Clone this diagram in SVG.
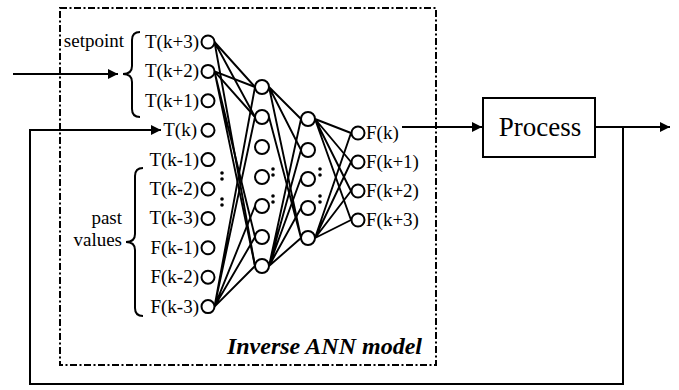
<svg xmlns="http://www.w3.org/2000/svg" width="679" height="390" viewBox="0 0 679 390">
<style>
.t{font-family:"Liberation Serif","Times New Roman",serif;font-size:19px;fill:#000}
.n{fill:#fff;stroke:#000;stroke-width:2}
.e{stroke:#000;stroke-width:1.9;fill:none}
.w{stroke:#000;stroke-width:2;fill:none}
.d{fill:#000}
</style>
<defs>
<marker id="ah" viewBox="0 0 10 10" refX="10" refY="5" markerWidth="5" markerHeight="5" orient="auto" markerUnits="strokeWidth">
<path d="M0,0 L10,5 L0,10 z" fill="#000"/>
</marker>
</defs>
<rect x="60" y="8" width="376" height="357" fill="none" stroke="#000" stroke-width="2" stroke-dasharray="7 2.5 2 2.5"/>
<g id="connectors">
<g class="e">
<path d="M214.5,42 L255,87 M214.5,42 L255,117 M214.5,42 L255,266"/>
<path d="M214.5,71.4 L255,87 M214.5,71.4 L255,117 M214.5,71.4 L255,237 M214.5,71.4 L255,266"/>
<path d="M214.5,306.6 L255,87 M214.5,306.6 L255,117 M214.5,306.6 L255,206 M214.5,306.6 L255,237 M214.5,306.6 L255,266"/>
<path d="M269,87 L301,119 M269,87 L301,150 M269,87 L301,238 M269,117 L301,238"/>
<path d="M269,266 L301,119 M269,266 L301,150 M269,266 L301,178 M269,266 L301,208 M269,266 L301,238"/>
<path d="M315,119 L351,133 M315,119 L351,162 M315,119 L351,191 M315,119 L351,220"/>
<path d="M315,238 L351,133 M315,238 L351,162 M315,238 L351,191 M315,238 L351,220"/>
</g>
<path class="w" d="M13,74 H118" marker-end="url(#ah)"/>
<path class="w" d="M402,127 H482" marker-end="url(#ah)"/>
<path class="w" d="M595,127 H670" marker-end="url(#ah)"/>
<path class="w" stroke-width="2.4" d="M623,127 V384 H30 V130 H161" marker-end="url(#ah)"/>
</g>
<g id="braces" class="w">
<path d="M140,32 Q132,32 132,40 L132,66 Q132,74 123,74 Q132,74 132,82 L132,109 Q132,117 140,117"/>
<path d="M143,168 Q135,168 135,176 L135,234 Q135,242 126,242 Q135,242 135,250 L135,308 Q135,316 143,316"/>
</g>
<text class="t" x="124" y="47" text-anchor="end">setpoint</text>
<text class="t" x="122" y="224" text-anchor="end">past</text>
<text class="t" x="122" y="246" text-anchor="end">values</text>
<g id="inputs">
<g id="in-tk3"><circle class="n" cx="208" cy="42" r="6.5"/><text class="t" x="199" y="48" text-anchor="end">T(k+3)</text></g>
<g id="in-tk2"><circle class="n" cx="208" cy="71.4" r="6.5"/><text class="t" x="199" y="77.4" text-anchor="end">T(k+2)</text></g>
<g id="in-tk1"><circle class="n" cx="208" cy="100.8" r="6.5"/><text class="t" x="199" y="106.8" text-anchor="end">T(k+1)</text></g>
<g id="in-tk"><circle class="n" cx="208" cy="130.2" r="6.5"/><text class="t" x="197" y="136.2" text-anchor="end">T(k)</text></g>
<g id="in-tkm1"><circle class="n" cx="208" cy="159.6" r="6.5"/><text class="t" x="199" y="165.6" text-anchor="end">T(k-1)</text></g>
<g id="in-tkm2"><circle class="n" cx="208" cy="189" r="6.5"/><text class="t" x="199" y="195" text-anchor="end">T(k-2)</text></g>
<g id="in-tkm3"><circle class="n" cx="208" cy="218.4" r="6.5"/><text class="t" x="199" y="224.4" text-anchor="end">T(k-3)</text></g>
<g id="in-fkm1"><circle class="n" cx="208" cy="247.8" r="6.5"/><text class="t" x="199" y="253.8" text-anchor="end">F(k-1)</text></g>
<g id="in-fkm2"><circle class="n" cx="208" cy="277.2" r="6.5"/><text class="t" x="199" y="283.2" text-anchor="end">F(k-2)</text></g>
<g id="in-fkm3"><circle class="n" cx="208" cy="306.6" r="6.5"/><text class="t" x="199" y="312.6" text-anchor="end">F(k-3)</text></g>
<g class="d"><circle cx="222" cy="173" r="1.8"/><circle cx="222" cy="179" r="1.8"/><circle cx="222" cy="199" r="1.8"/><circle cx="222" cy="205" r="1.8"/></g>
</g>
<g id="hidden1">
<circle class="n" cx="262" cy="87" r="7"/>
<circle class="n" cx="262" cy="117" r="7"/>
<circle class="n" cx="262" cy="147" r="7"/>
<circle class="n" cx="262" cy="177" r="7"/>
<circle class="n" cx="262" cy="206" r="7"/>
<circle class="n" cx="262" cy="237" r="7"/>
<circle class="n" cx="262" cy="266" r="7"/>
<g class="d"><circle cx="273" cy="169" r="1.8"/><circle cx="273" cy="175" r="1.8"/><circle cx="273" cy="196" r="1.8"/><circle cx="273" cy="202" r="1.8"/></g>
</g>
<g id="hidden2">
<circle class="n" cx="308" cy="119" r="7"/>
<circle class="n" cx="308" cy="150" r="7"/>
<circle class="n" cx="308" cy="179" r="7"/>
<circle class="n" cx="308" cy="208" r="7"/>
<circle class="n" cx="308" cy="238" r="7"/>
<g class="d"><circle cx="320" cy="169" r="1.8"/><circle cx="320" cy="175" r="1.8"/><circle cx="320" cy="196" r="1.8"/><circle cx="320" cy="202" r="1.8"/></g>
</g>
<g id="outputs">
<g id="out-fk"><circle class="n" cx="358" cy="133" r="6.5"/><text class="t" x="366" y="139">F(k)</text></g>
<g id="out-fk1"><circle class="n" cx="358" cy="162" r="6.5"/><text class="t" x="366" y="168">F(k+1)</text></g>
<g id="out-fk2"><circle class="n" cx="358" cy="191" r="6.5"/><text class="t" x="366" y="197">F(k+2)</text></g>
<g id="out-fk3"><circle class="n" cx="358" cy="220" r="6.5"/><text class="t" x="366" y="226">F(k+3)</text></g>
</g>
<g id="process">
<rect x="483" y="98" width="112" height="59" fill="#fff" stroke="#000" stroke-width="2"/>
<text class="t" x="540" y="136" text-anchor="middle" style="font-size:27px">Process</text>
</g>
<text class="t" x="422" y="354" text-anchor="end" style="font-size:24px;font-weight:bold;font-style:italic">Inverse ANN model</text>
</svg>
